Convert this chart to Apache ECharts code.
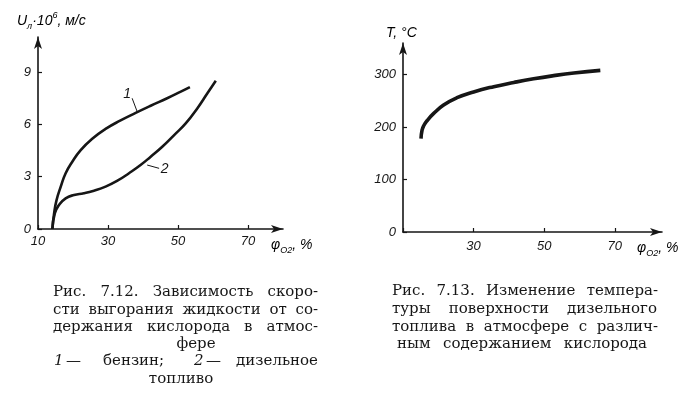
<!DOCTYPE html>
<html>
<head>
<meta charset="utf-8">
<script src="https://cdn.jsdelivr.net/npm/echarts@6/dist/echarts.min.js"></script>
<style>
html, body { margin: 0; padding: 0; background: #fff; }
#chart { width: 696px; height: 397px; }
</style>
</head>
<body>
<div id="chart"></div>
<script>
'use strict';

// Рис. 7.12 - burning rate vs oxygen content
var gasolineO2 = [14.1, 14.6, 15.3, 16.5, 17.9, 19.8, 22.2, 25.5, 29.3, 33.6, 37.9, 42.2, 46.9, 50.8, 53.4];
var gasolineRate = [0, 0.9, 1.66, 2.43, 3.2, 3.86, 4.53, 5.18, 5.74, 6.23, 6.66, 7.07, 7.5, 7.88, 8.14];
var dieselO2 = [14.1, 14.8, 16, 17.9, 20.3, 23.1, 26, 29.3, 32.7, 36, 39.3, 42.2, 45.5, 48.9, 52.2, 55.5, 58.4, 60.8];
var dieselRate = [0, 0.9, 1.38, 1.76, 1.95, 2.05, 2.2, 2.43, 2.77, 3.2, 3.67, 4.15, 4.72, 5.39, 6.06, 6.92, 7.79, 8.5];

// Рис. 7.13 - surface temperature of diesel fuel
var surfaceO2 = [15.1, 15.4, 15.9, 16.8, 18.7, 21.5, 25.3, 30, 35.7, 41.4, 47, 52.7, 58.4, 65.9];
var surfaceTemp = [178, 194, 203, 212, 226, 242, 256, 267, 277, 285, 292, 298, 303, 308];

var o2Ticks = [10, 30, 50, 70];
var rateTicks = [0, 3, 6, 9];
var tempTicks = [0, 100, 200, 300];

var INK = '#161616';
var tickFont = {
    fontFamily: 'Liberation Sans',
    fontStyle: 'italic',
    fontSize: 13,
    color: INK
};

function pairs(xs, ys) {
    var out = [];
    for (var i = 0; i < xs.length; i++) {
        out.push([xs[i], ys[i]]);
    }
    return out;
}

function axisLine() {
    return {
        show: true,
        lineStyle: { color: INK, width: 1.6 },
        symbol: ['none', 'arrow'],
        symbolSize: [6, 12]
    };
}

function xAxisFor(grid, max, margin, showFirst) {
    return {
        type: 'value',
        gridIndex: grid,
        min: o2Ticks[0],
        max: max,
        interval: o2Ticks[1] - o2Ticks[0],
        axisLine: axisLine(),
        axisTick: { show: true, inside: true, length: 4, lineStyle: { color: INK, width: 1.2 } },
        splitLine: { show: false },
        axisLabel: Object.assign({}, tickFont, {
            margin: margin,
            showMaxLabel: false,
            formatter: function(v) {
                if (o2Ticks.indexOf(v) < 0) return '';
                if (!showFirst && v === o2Ticks[0]) return '';
                return String(v);
            }
        })
    };
}

function yAxisFor(grid, ticks, max) {
    return {
        type: 'value',
        gridIndex: grid,
        min: ticks[0],
        max: max,
        interval: ticks[1] - ticks[0],
        axisLine: axisLine(),
        axisTick: { show: true, inside: true, length: 4, lineStyle: { color: INK, width: 1.2 } },
        splitLine: { show: false },
        axisLabel: Object.assign({}, tickFont, {
            margin: 7,
            showMaxLabel: false,
            formatter: function(v) {
                return ticks.indexOf(v) < 0 ? '' : String(v);
            }
        })
    };
}

function curveLabel(text, coord) {
    return {
        coord: coord,
        value: text,
        symbol: 'circle',
        symbolSize: 0,
        label: {
            show: true,
            position: 'inside',
            formatter: text,
            fontFamily: 'Liberation Sans',
            fontStyle: 'italic',
            fontSize: 14,
            color: INK
        }
    };
}

function leader(from, to) {
    return [{ coord: from }, { coord: to }];
}

// caption text, words spread across the column like the printed page
var measureCtx = document.createElement('canvas').getContext('2d');
var CAPTION_FONT = '15px "DejaVu Serif"';
var CAPTION_ITALIC = 'italic 15px "DejaVu Serif"';

function word(text, x, y, font) {
    return {
        type: 'text',
        x: x,
        y: y,
        silent: true,
        style: { text: text, font: font || CAPTION_FONT, fill: INK, verticalAlign: 'middle' }
    };
}

function textWidth(text) {
    measureCtx.font = CAPTION_FONT;
    return measureCtx.measureText(text).width;
}

function justified(line, left, right, y) {
    var words = line.split(' ');
    var total = 0;
    var widths = words.map(function(w) {
        var wd = textWidth(w);
        total += wd;
        return wd;
    });
    var gap = words.length > 1 ? (right - left - total) / (words.length - 1) : 0;
    var x = left;
    var els = [];
    for (var i = 0; i < words.length; i++) {
        els.push(word(words[i], x, y));
        x += widths[i] + gap;
    }
    return els;
}

function centered(text, cx, y) {
    return word(text, cx - textWidth(text) / 2, y);
}

var graphics = [];
graphics = graphics.concat(
    justified('Рис. 7.12. Зависимость скоро-', 53, 318, 292),
    justified('сти выгорания жидкости от со-', 53, 318, 310),
    justified('держания кислорода в атмос-', 53, 318, 327),
    [centered('фере', 196, 344)],
    [
        word('1', 54, 361, CAPTION_ITALIC),
        word('—', 66, 361),
        word('бензин;', 103, 361),
        word('2', 194, 361, CAPTION_ITALIC),
        word('—', 206, 361),
        word('дизельное', 318 - textWidth('дизельное'), 361)
    ],
    [centered('топливо', 181, 379)],
    justified('Рис. 7.13. Изменение темпера-', 392, 658, 291),
    justified('туры поверхности дизельного', 392, 657, 309),
    justified('топлива в атмосфере с различ-', 392, 658, 327),
    justified('ным содержанием кислорода', 397, 647, 344)
);

// axis names
var nameRich = {
    i: { fontFamily: 'Liberation Sans', fontStyle: 'italic', fontSize: 14, color: INK, verticalAlign: 'middle', lineHeight: 20 },
    sub: { fontFamily: 'Liberation Sans', fontStyle: 'italic', fontSize: 9, color: INK, verticalAlign: 'bottom', lineHeight: 20 },
    sup: { fontFamily: 'Liberation Sans', fontStyle: 'italic', fontSize: 9, color: INK, verticalAlign: 'top', lineHeight: 20 }
};
function axisName(text, x, y) {
    return {
        type: 'text',
        x: x,
        y: y,
        silent: true,
        style: { text: text, rich: nameRich, verticalAlign: 'middle' }
    };
}
graphics.push(axisName('{i|U}{sub|л}{i|·10}{sup|6}{i|, м/с}', 17, 21));
graphics.push(axisName('{i|φ}{sub|O2}{i|, %}', 271, 245));
graphics.push(axisName('{i|T, °C}', 386, 33));
graphics.push(axisName('{i|φ}{sub|O2}{i|, %}', 637, 248));

var chart = echarts.init(document.getElementById('chart'), null, { renderer: 'canvas' });

var option = {
    backgroundColor: '#ffffff',
    animation: false,
    grid: [
        { left: 38, top: 37, width: 245, height: 192 },
        { left: 403, top: 43, width: 259, height: 189 }
    ],
    xAxis: [
        xAxisFor(0, 10 + 245 / 3.5, 6, true),
        xAxisFor(1, 10 + 259 / 3.53, 8, false)
    ],
    yAxis: [
        yAxisFor(0, rateTicks, 192 / 17.43),
        yAxisFor(1, tempTicks, 189 / 0.5247)
    ],
    series: [{
        name: '1',
        type: 'line',
        xAxisIndex: 0,
        yAxisIndex: 0,
        data: pairs(gasolineO2, gasolineRate),
        showSymbol: false,
        smooth: 0.5,
        lineStyle: { color: INK, width: 2.6 },
        markPoint: {
            silent: true,
            data: [curveLabel('1', [35.5, 7.72])]
        },
        markLine: {
            silent: true,
            symbol: ['none', 'none'],
            label: { show: false },
            lineStyle: { color: INK, width: 1, type: 'solid' },
            data: [leader([36.9, 7.5], [38.4, 6.7])]
        }
    }, {
        name: '2',
        type: 'line',
        xAxisIndex: 0,
        yAxisIndex: 0,
        data: pairs(dieselO2, dieselRate),
        showSymbol: false,
        smooth: 0.5,
        lineStyle: { color: INK, width: 2.6 },
        markPoint: {
            silent: true,
            data: [curveLabel('2', [46.2, 3.44])]
        },
        markLine: {
            silent: true,
            symbol: ['none', 'none'],
            label: { show: false },
            lineStyle: { color: INK, width: 1, type: 'solid' },
            data: [leader([41.2, 3.67], [44.6, 3.48])]
        }
    }, {
        name: 'T',
        type: 'line',
        xAxisIndex: 1,
        yAxisIndex: 1,
        data: pairs(surfaceO2, surfaceTemp),
        showSymbol: false,
        smooth: 0.5,
        lineStyle: { color: INK, width: 3.6 }
    }],
    graphic: graphics
};

chart.setOption(option);
</script>
</body>
</html>
